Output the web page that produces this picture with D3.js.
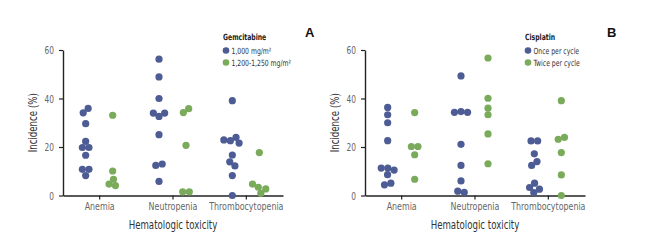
<!DOCTYPE html>
<html>
<head>
<meta charset="utf-8">
<script src="https://cdn.jsdelivr.net/npm/d3@7"></script>
<style>
    body { margin: 0; background: #fff; }
    text { font-family: "Liberation Sans Narrow", "DejaVu Sans Condensed", sans-serif; }
</style>
</head>
<body>
<svg id="chart" width="653" height="241"></svg>
<script>
    // categorias y ticks
    const categories = ["Anemia", "Neutropenia", "Thrombocytopenia"];
    const yTicks = [0, 20, 40, 60];

    // panel A: gemcitabina (una lista por categoria)
    const gemLow = [
        [34.1, 35.9, 29.6, 22.3, 19.8, 19.8, 16.6, 10.8, 10.8, 8.2],
        [56.2, 48.9, 40.0, 34.0, 32.6, 34.0, 25.1, 13.0, 12.4, 5.8],
        [39.1, 24.0, 22.6, 21.6, 22.9, 16.7, 13.9, 12.2, 8.2, 0]
    ];
    const gemHigh = [
        [33.1, 10.1, 6.7, 4.1, 4.7],
        [34.2, 35.8, 20.7, 1.5, 1.5],
        [17.7, 3.4, 0.9, 2.7, 4.7]
    ];

    // panel B: cisplatino
    const cisOnce = [
        [36.3, 33.3, 30.0, 22.6, 11.3, 10.5, 11.3, 8.6, 4.4, 5.1],
        [49.3, 34.3, 34.3, 34.6, 21.1, 12.4, 6.0, 1.3, 1.8],
        [22.5, 22.5, 17.2, 14.0, 12.4, 3.3, 1.2, 2.6, 5.1]
    ];
    const cisTwice = [
        [34.2, 20.2, 20.2, 16.8, 6.7],
        [56.7, 40.1, 36.0, 33.3, 25.4, 13.1],
        [39.1, 24.0, 23.2, 17.7, 8.5, 0]
    ];

    const legendA = ["1,000 mg/m\u00b2", "1,200-1,250 mg/m\u00b2"];
    const legendB = ["Once per cycle", "Twice per cycle"];

    const colors = ["#4d5c95", "#7aab5a"];
    const r = 3.6;

    const panels = [
        {left: 63, letter: "A", title: "Gemcitabine", names: legendA, series: [gemLow, gemHigh]},
        {left: 365, letter: "B", title: "Cisplatin", names: legendB, series: [cisOnce, cisTwice]}
    ];

    const svg = d3.select("#chart");

    const y = d3.scaleLinear().domain([0, 60]).range([195.5, 50]);

    panels.forEach(p => {
        const g = svg.append("g");

        const x = d3.scaleBand().domain(categories).range([p.left, p.left + 220]);

        // ejes
        const yAxis = g.append("g")
            .attr("transform", `translate(${p.left},0)`)
            .call(d3.axisLeft(y).tickValues(yTicks).tickSize(4).tickSizeOuter(0).tickPadding(5));

        const xAxis = g.append("g")
            .attr("transform", `translate(0,${y(0)})`)
            .call(d3.axisBottom(x).tickSize(4).tickSizeOuter(0).tickPadding(3));

        [yAxis, xAxis].forEach(a => {
            a.select(".domain").attr("stroke", "#222").attr("stroke-width", 1.4);
            a.selectAll(".tick line").attr("stroke", "#222").attr("stroke-width", 1.2);
            a.selectAll(".tick text").attr("fill", "#666").style("font-size", "11px");
        });
        // la fuente original es bastante angosta
        xAxis.selectAll(".tick text").attr("transform", "scale(0.8,1)");
        yAxis.selectAll(".tick text")
            .attr("x", null)
            .attr("transform", "translate(-9,0) scale(0.75,1)");

        // titulos de ejes
        g.append("text")
            .attr("transform", `translate(${p.left - 26},${(y(0) + y(60)) / 2}) rotate(-90) scale(0.8,1)`)
            .attr("text-anchor", "middle")
            .attr("fill", "#333")
            .style("font-size", "12px")
            .text("Incidence (%)");

        g.append("text")
            .attr("transform", `translate(${p.left + 110},229) scale(0.8,1)`)
            .attr("text-anchor", "middle")
            .attr("fill", "#333")
            .style("font-size", "12px")
            .text("Hematologic toxicity");

        // puntos: cada grupo se acomoda con una simulacion de fuerzas (tipo beeswarm)
        const offsets = [-14, 13];
        p.series.forEach((serie, si) => {
            serie.forEach((valores, ci) => {
                const cx = x(categories[ci]) + x.bandwidth() / 2 + offsets[si];
                const nodes = valores.map((v, i) => ({v: v, x: cx + (i % 2 ? 0.3 : -0.3), fy: y(v)}));
                d3.forceSimulation(nodes)
                    .force("x", d3.forceX(cx).strength(0.2))
                    .force("collide", d3.forceCollide(r - 0.3))
                    .stop()
                    .tick(250);

                g.selectAll(null)
                    .data(nodes).enter()
                    .append("circle")
                    .attr("cx", d => d.x)
                    .attr("cy", d => d.fy)
                    .attr("r", r)
                    .attr("fill", colors[si]);
            });
        });

        // leyenda
        const lx = p.left + 160;
        g.append("text")
            .attr("transform", `translate(${lx},40) scale(0.8,1)`)
            .attr("fill", "#222")
            .style("font-size", "8.5px")
            .style("font-weight", "bold")
            .text(p.title);

        p.names.forEach((n, i) => {
            g.append("circle")
                .attr("cx", lx + 3)
                .attr("cy", 50.5 + i * 12)
                .attr("r", 3.3)
                .attr("fill", colors[i]);
            g.append("text")
                .attr("transform", `translate(${lx + 8.5},${53.5 + i * 12}) scale(0.8,1)`)
                .attr("fill", "#333")
                .style("font-size", "8.5px")
                .text(n);
        });

        // letra del panel
        g.append("text")
            .attr("x", p.left + 242)
            .attr("y", 37)
            .attr("fill", "#111")
            .style("font-family", "'Liberation Sans', Arial, sans-serif")
            .style("font-size", "13px")
            .style("font-weight", "bold")
            .text(p.letter);
    });
</script>
</body>
</html>
